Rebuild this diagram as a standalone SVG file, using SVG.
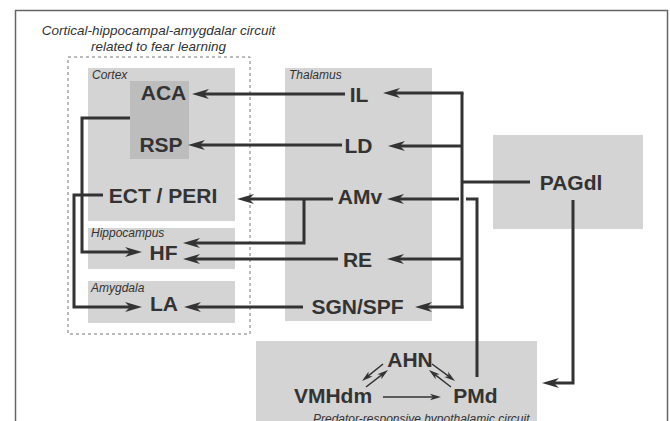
<svg xmlns="http://www.w3.org/2000/svg" width="670" height="421" viewBox="0 0 670 421">
<style>
.box{fill:#d4d4d4}
.dark{fill:#bdbdbd}
.lbl{font-family:"Liberation Sans",Arial,sans-serif;font-weight:bold;font-size:21px;fill:#333;text-anchor:middle}
.sm{font-family:"Liberation Sans",Arial,sans-serif;font-style:italic;font-size:12px;fill:#333}
.ttl{font-family:"Liberation Sans",Arial,sans-serif;font-style:italic;font-size:13.5px;fill:#333;text-anchor:middle}
.c{fill:none;stroke:#333;stroke-width:3}
.ca{fill:none;stroke:#333;stroke-width:3;marker-end:url(#ah)}
.t{fill:none;stroke:#333;stroke-width:1.5;marker-end:url(#ahs)}
</style>
<defs>
<marker id="ah" markerUnits="userSpaceOnUse" markerWidth="20" markerHeight="12" viewBox="-10 -6 20 12" refX="0" refY="0" orient="auto">
<path d="M8,0 L-9,-5 L-4,0 L-9,5 Z" fill="#333"/>
</marker>
<marker id="ahs" markerUnits="userSpaceOnUse" markerWidth="14" markerHeight="8" viewBox="-7 -4 14 8" refX="0" refY="0" orient="auto">
<path d="M6,0 L-5,-3.2 L-2,0 L-5,3.2 Z" fill="#333"/>
</marker>
</defs>
<rect x="0" y="0" width="670" height="421" fill="#fff"/>
<rect x="15.5" y="10.5" width="652" height="420" fill="none" stroke="#666" stroke-width="1.5"/>
<g id="title">
<text class="ttl" x="158.5" y="35">Cortical-hippocampal-amygdalar circuit</text>
<text class="ttl" x="158.5" y="51">related to fear learning</text>
<rect x="68" y="57" width="182" height="277" fill="none" stroke="#777" stroke-width="1" stroke-dasharray="3,3"/>
</g>
<g id="cortex">
<rect class="box" x="88" y="68" width="147" height="153"/>
<text class="sm" x="92" y="79">Cortex</text>
</g>
<g id="hippocampus-region">
<rect class="box" x="88" y="228" width="147" height="41"/>
<text class="sm" x="91" y="237">Hippocampus</text>
</g>
<g id="amygdala-region">
<rect class="box" x="88" y="281" width="147" height="42"/>
<text class="sm" x="91" y="292">Amygdala</text>
</g>
<g id="thalamus">
<rect class="box" x="285" y="68" width="147" height="253"/>
<text class="sm" x="289" y="79">Thalamus</text>
</g>
<g id="pag-region"><rect class="box" x="493" y="135" width="150" height="94"/></g>
<g id="hypothalamus">
<rect class="box" x="256" y="341" width="281" height="90"/>
<text class="sm" x="313" y="423">Predator-responsive hypothalamic circuit</text>
</g>
<g id="aca-rsp"><rect class="dark" x="130" y="81" width="59" height="78"/></g>
<g id="ACA"><text class="lbl" x="163.5" y="100">ACA</text></g>
<g id="RSP"><text class="lbl" x="161" y="152">RSP</text></g>
<g id="ECT-PERI"><text class="lbl" x="163" y="203">ECT / PERI</text></g>
<g id="HF"><text class="lbl" x="163.5" y="260">HF</text></g>
<g id="LA"><text class="lbl" x="164" y="311">LA</text></g>
<g id="IL"><text class="lbl" x="359" y="102">IL</text></g>
<g id="LD"><text class="lbl" x="358.5" y="153">LD</text></g>
<g id="AMv"><text class="lbl" x="360" y="204">AMv</text></g>
<g id="RE"><text class="lbl" x="357.5" y="267">RE</text></g>
<g id="SGN-SPF"><text class="lbl" x="357.5" y="314">SGN/SPF</text></g>
<g id="PAGdl"><text class="lbl" x="571" y="190">PAGdl</text></g>
<g id="AHN"><text class="lbl" x="410" y="367">AHN</text></g>
<g id="VMHdm"><text class="lbl" x="333" y="403">VMHdm</text></g>
<g id="PMd"><text class="lbl" x="475.5" y="403">PMd</text></g>
<g id="connectors">
<path class="ca" d="M345,94 H200"/>
<path class="ca" d="M342,145 H196"/>
<path class="ca" d="M333,199 H245"/>
<path class="ca" d="M304,199 V243 H191"/>
<path class="ca" d="M338,259 H191"/>
<path class="ca" d="M303,307 H192"/>
<path class="ca" d="M130,118 H82 V252 H134"/>
<path class="ca" d="M103,195 H74 V307 H134"/>
<path class="c" d="M530,182 H462"/>
<path class="c" d="M462,93 V308.5"/>
<path class="ca" d="M463.5,93 H391"/>
<path class="ca" d="M462,146 H396"/>
<path class="ca" d="M459,199 H395"/>
<path class="ca" d="M462,259 H395"/>
<path class="ca" d="M463.5,307 H423"/>
<path class="c" d="M477,377 V199 H466"/>
<path class="ca" d="M573,200 V383 H550"/>
<path class="t" d="M383,397 H435"/>
<path class="t" d="M383,364 L366.7,377.2"/>
<path class="t" d="M366,387 L383.3,373.7"/>
<path class="t" d="M432,364 L450.2,377.4"/>
<path class="t" d="M451,387 L433.7,373.7"/>
</g>
</svg>
